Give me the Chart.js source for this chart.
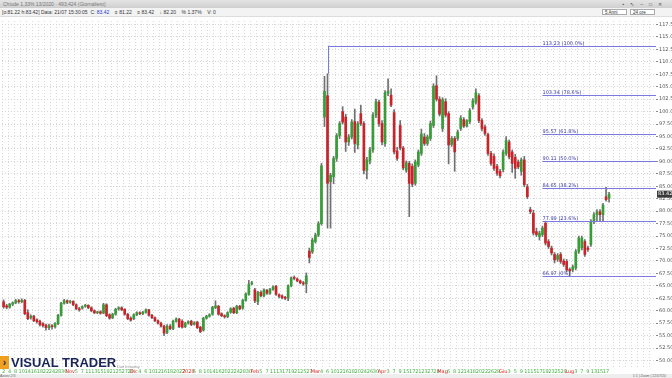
<!DOCTYPE html>
<html>
<head>
<meta charset="utf-8">
<script src="https://cdn.jsdelivr.net/npm/chart.js@4.4.0/dist/chart.umd.min.js"></script>
<style>
html, body { margin:0; padding:0; width:672px; height:378px; overflow:hidden; background:#fff; font-family:"Liberation Sans", Arial, sans-serif; }
#titlebar { position:absolute; left:0; top:0; width:672px; height:8px; background:linear-gradient(#e4e4e4,#cfcfcf); font-size:5px; line-height:8px; color:#777; padding-left:3px; box-sizing:border-box; }
#titlebar .win { position:absolute; right:4px; top:0; letter-spacing:6px; color:#555; }
#toolbar { position:absolute; left:0; top:8px; width:672px; height:9px; background:#f3f3f3; border-bottom:1px solid #ddd; box-sizing:border-box; font-size:5px; line-height:8px; color:#333; padding-left:2px; white-space:pre; }
#toolbar .blue { color:#2233cc; }
#toolbar .sel { position:absolute; top:1px; height:6px; border:1px solid #aaa; background:#fff; font-size:4.5px; line-height:6px; padding-left:2px; box-sizing:border-box; }
#chartWrap { position:absolute; left:0; top:17px; width:672px; height:361px; }
#logo { position:absolute; left:0; top:355px; height:14px; }
#logo .mark { position:absolute; left:0; top:1px; width:9px; height:13px; background:#f0a020; color:#1a2456; font:bold 10px "Liberation Sans"; line-height:13px; text-align:center; }
#logo .name { position:absolute; left:11px; top:1px; font:bold 13px "Liberation Sans", Arial, sans-serif; color:#1a2456; white-space:nowrap; line-height:13px; }
#logo .sub { position:absolute; left:117px; top:9px; font-size:4px; color:#999; white-space:nowrap; }
#status { position:absolute; left:0; top:374px; width:672px; height:4px; background:#eee; font-size:3.5px; line-height:4px; color:#666; }
#status .r { position:absolute; right:6px; top:0; }
</style>
</head>
<body>
<div id="titlebar">Chiude 1,33% 13/2020 · 493,424 (Giornaliero)<span class="win">▪↖–□✕</span></div>
<div id="toolbar">[o:81.22 h:83.42] Data: 21/07 15:30:05  C: <span class="blue">83.42</span>    ≡ 81.22    ≡ 83.42    ↓ 82.20    % 1.37%    V: 0<span class="sel" style="left:602px;width:25px">5 Anni</span><span class="sel" style="left:630px;width:25px">24 ore</span></div>
<div id="chartWrap"><canvas id="chart" width="672" height="361"></canvas></div>
<div id="logo"><div class="mark">›</div><div class="name">VISUAL TRADER</div><div class="sub">Dati Intraday</div></div>
<div id="status">Azioni 2/3<span class="r">1:1 | Zoom | 22/07/20</span></div>
<script>
// daily candles, 2 Oct 2019 -> 20 Jul 2020
const opens = [
  61.8, 61.0, 60.7, 61.3, 61.6, 62.0, 61.8, 62.1, 59.6, 58.6, 58.9, 58.2, 57.9, 57.4, 57.1, 56.6, 57.0, 56.8, 57.4, 59.1,
  61.5, 62.0, 61.7, 61.9, 61.2, 60.4, 60.5, 60.9, 61.1, 60.6, 60.0, 59.6, 59.8, 59.5, 61.2, 59.2, 58.6, 59.3, 60.4, 60.6,
  60.3, 59.3, 58.5, 58.4, 59.2, 59.6, 59.4, 59.7, 60.2, 59.1, 58.6, 58.0, 57.5, 56.9, 55.6, 56.9,
  56.4, 57.9, 58.3, 57.9, 56.8, 57.5, 57.9, 57.3, 57.7, 56.7, 56.1, 58.5, 58.9, 59.3, 60.6, 60.9, 59.4, 59.0, 58.8, 59.7,
  60.5, 59.6, 60.9, 60.5, 62.1, 63.3, 65.4, 64.2, 61.8, 63.7, 63.0, 64.1, 63.5, 64.3, 64.9, 63.2, 63.0, 62.7, 62.5, 65.0,
  66.6, 66.4, 66.0, 65.6, 65.4, 72.0,
  71.8, 73.9, 75.2, 77.5, 98.9, 103.2, 85.9, 86.9, 90.6, 95.2, 100.0, 98.9, 93.9, 94.9, 98.0, 93.3, 99.6, 97.6, 88.2, 90.1,
  92.3, 99.3, 101.9, 97.6, 93.6, 103.7, 103.3, 99.8, 92.1, 97.2, 92.7, 88.2, 89.6, 89.0, 85.6, 89.3, 91.6, 94.9, 93.6, 94.6,
  97.2, 105.2, 102.5, 96.6, 102.0, 99.6, 93.4, 94.6, 94.6, 96.6, 98.4, 97.1, 98.0,
  100.9, 101.9, 103.2, 98.2, 96.9, 95.4, 91.6, 91.0, 89.0, 88.0, 88.3, 91.6, 93.9, 91.9, 90.8, 89.9, 88.0, 90.3, 84.9, 80.3,
  79.6, 75.9, 74.9, 75.3, 77.6, 73.9, 72.6, 71.3, 70.3, 71.3, 70.0, 69.9, 68.3, 68.2, 68.6, 71.9, 72.6, 73.9, 72.6, 73.3,
  77.9, 79.3, 79.9, 79.3, 82.9, 82.6
];
const highs = [
  62.2, 61.3, 61.5, 61.8, 62.3, 62.3, 62.4, 62.3, 60.2, 59.2, 59.1, 58.4, 58.1, 57.6, 57.3, 57.3, 57.2, 57.6, 59.3, 61.7,
  62.3, 62.2, 62.1, 62.0, 61.4, 60.7, 61.0, 61.3, 61.2, 60.8, 60.2, 59.9, 60.0, 61.5, 61.4, 59.4, 59.5, 60.5, 60.8, 60.8,
  60.4, 59.5, 58.8, 59.4, 59.8, 59.8, 59.9, 60.4, 60.3, 59.3, 58.8, 58.2, 57.7, 57.1, 57.2, 57.2,
  58.1, 58.6, 58.5, 58.2, 57.7, 58.0, 58.1, 57.8, 57.9, 56.9, 58.7, 59.1, 59.4, 60.9, 62.0, 61.1, 59.6, 59.2, 59.8, 60.6,
  60.7, 61.1, 61.1, 62.3, 63.6, 66.1, 65.9, 64.5, 63.9, 64.0, 64.4, 64.3, 64.5, 65.0, 65.1, 63.4, 63.2, 62.9, 65.2, 66.8,
  67.0, 66.6, 66.2, 65.9, 67.6, 72.6,
  74.6, 75.6, 77.9, 89.6, 107.1, 107.6, 87.6, 91.0, 95.6, 98.0, 101.0, 99.5, 95.4, 98.4, 100.5, 98.0, 101.3, 98.0, 90.8, 92.8,
  99.8, 102.5, 102.3, 98.2, 104.2, 106.6, 104.6, 100.4, 92.8, 98.2, 93.0, 90.1, 90.0, 89.5, 90.3, 92.3, 96.5, 95.6, 95.3, 98.1,
  105.6, 107.2, 103.0, 102.8, 102.6, 100.0, 95.0, 95.0, 96.3, 99.2, 98.8, 98.4, 100.6,
  102.6, 104.6, 103.6, 98.6, 97.3, 95.7, 92.0, 91.5, 89.4, 88.4, 92.3, 95.0, 94.3, 92.3, 91.4, 90.3, 90.7, 91.0, 85.4, 80.8,
  80.2, 76.6, 76.0, 77.0, 78.0, 74.3, 73.0, 71.7, 71.5, 71.7, 70.4, 70.3, 68.6, 69.2, 72.3, 75.0, 75.0, 74.3, 73.0, 78.3,
  79.7, 80.3, 80.3, 81.6, 84.8, 83.8
];
const lows = [
  60.5, 60.4, 60.5, 61.0, 61.4, 61.5, 61.6, 59.2, 58.2, 58.3, 57.8, 57.5, 56.9, 56.7, 56.1, 56.2, 56.3, 56.5, 57.2, 58.9,
  61.3, 61.4, 61.5, 61.0, 60.2, 59.9, 60.3, 60.7, 60.4, 59.8, 59.4, 59.4, 59.3, 59.4, 58.8, 58.3, 58.4, 59.1, 60.1, 60.0,
  59.1, 58.2, 57.9, 58.2, 59.0, 59.2, 59.2, 59.5, 58.9, 58.4, 57.8, 57.3, 56.7, 55.0, 55.4, 56.2,
  56.2, 57.7, 56.6, 56.5, 56.6, 57.3, 57.0, 57.1, 56.4, 55.6, 55.9, 58.3, 58.7, 59.1, 60.4, 59.1, 58.8, 58.5, 58.6, 59.5,
  59.4, 59.4, 60.2, 60.3, 61.9, 63.1, 65.2, 61.6, 61.2, 62.8, 62.8, 63.3, 63.3, 64.1, 63.1, 62.6, 62.4, 62.2, 62.0, 64.8,
  66.2, 65.8, 65.4, 65.1, 63.6, 69.6,
  71.5, 73.6, 74.9, 77.2, 97.0, 76.6, 76.6, 85.5, 90.0, 94.6, 97.5, 92.0, 93.2, 94.5, 91.8, 92.5, 97.2, 87.5, 86.5, 89.5,
  91.8, 98.8, 97.0, 93.3, 93.0, 103.2, 101.0, 91.5, 90.2, 92.3, 88.3, 87.8, 78.9, 84.9, 85.2, 88.9, 91.2, 93.2, 93.2, 94.2,
  96.8, 102.1, 99.1, 96.0, 98.9, 89.5, 93.0, 88.0, 94.2, 96.2, 96.8, 96.9, 97.6,
  100.5, 101.5, 97.8, 96.1, 95.2, 91.2, 89.2, 88.2, 87.2, 86.7, 87.9, 91.2, 90.5, 87.8, 86.6, 88.5, 87.2, 84.9, 82.5, 79.5,
  75.2, 74.9, 74.2, 74.9, 73.2, 72.5, 71.2, 69.6, 69.9, 69.5, 68.9, 67.8, 66.97, 67.8, 68.2, 71.5, 72.2, 70.9, 71.9, 72.9,
  77.5, 78.0, 77.9, 77.9, 82.0, 81.8
];
const closes = [
  60.8, 60.7, 61.3, 61.6, 62.0, 61.8, 62.1, 59.4, 58.4, 58.9, 58.0, 57.8, 57.2, 57.0, 56.6, 57.0, 56.8, 57.4, 59.1, 61.5,
  62.0, 61.7, 61.9, 61.2, 60.4, 60.2, 60.8, 61.1, 60.6, 60.0, 59.6, 59.7, 59.5, 61.2, 59.0, 58.5, 59.3, 60.3, 60.6, 60.2,
  59.3, 58.4, 58.1, 59.2, 59.6, 59.4, 59.7, 60.2, 59.1, 58.6, 58.0, 57.5, 56.9, 55.5, 56.9, 56.4,
  57.9, 58.3, 56.8, 56.7, 57.5, 57.8, 57.2, 57.6, 56.6, 55.8, 58.5, 58.9, 59.2, 60.7, 61.0, 59.3, 59.0, 58.8, 59.6, 60.4,
  59.6, 60.9, 60.4, 62.1, 63.4, 65.3, 65.6, 62.0, 63.7, 63.0, 64.2, 63.5, 64.3, 64.8, 63.3, 62.9, 62.6, 62.5, 65.0, 66.6,
  66.5, 66.0, 65.6, 65.4, 67.0, 70.7,
  74.2, 75.2, 77.5, 89.1, 104.1, 85.6, 87.2, 90.6, 95.2, 97.6, 97.9, 93.9, 94.9, 97.9, 93.6, 97.6, 97.6, 88.2, 90.3, 92.3,
  99.3, 102.0, 97.6, 93.9, 103.8, 104.1, 101.3, 91.9, 90.6, 92.7, 88.7, 89.7, 85.6, 85.4, 89.9, 91.9, 95.5, 93.6, 94.9, 97.6,
  105.1, 102.5, 99.5, 102.4, 99.3, 93.3, 94.6, 91.9, 95.9, 98.7, 97.1, 98.2, 100.2,
  102.2, 103.8, 98.2, 96.6, 95.6, 91.6, 89.6, 88.6, 87.6, 87.1, 91.9, 94.2, 90.9, 89.6, 88.6, 88.9, 90.3, 85.3, 82.9, 79.9,
  75.6, 75.3, 75.6, 76.6, 73.6, 72.9, 71.6, 70.2, 71.1, 69.9, 69.3, 68.2, 68.0, 68.8, 71.9, 74.6, 74.6, 71.3, 72.3, 77.9,
  79.3, 79.9, 79.3, 81.2, 82.3, 83.42
];

// Fibonacci retracement drawn on the chart
const fibLevels = [113.23, 103.34, 95.57, 90.11, 84.65, 77.99, 66.97];
const fibPct = ['100.0%', '78.6%', '61.8%', '50.0%', '38.2%', '23.6%', '0%'];
const fibHighIndex = 107;
const fibLabelIndex = 178;

const yTicks = [50, 52.5, 55, 57.5, 60, 62.5, 65, 67.5, 70, 72.5, 75, 77.5, 80, 82.5, 85, 87.5,
  90, 92.5, 95, 97.5, 100, 102.5, 105, 107.5, 110, 112.5, 115, 117.5];
const lastPrice = 83.42;

const monthNames = ['2020', 'Feb', 'Mar', 'Apr', 'Mag', 'Giu', 'Lug', 'Ago', 'Set', 'Ott', 'Nov', 'Dic'];
const holidays = ['2019-12-24', '2019-12-25', '2019-12-26', '2019-12-31', '2020-01-01', '2020-04-10', '2020-04-13', '2020-05-01'];
const emptySlots = 15;

// trading days
const dates = [];
for (let d = new Date(2019, 9, 2); dates.length < closes.length; d.setDate(d.getDate() + 1)) {
  const wd = d.getDay();
  if (wd === 0 || wd === 6) continue;
  const key = d.getFullYear() + '-' + String(d.getMonth() + 1).padStart(2, '0') + '-' + String(d.getDate()).padStart(2, '0');
  if (holidays.includes(key)) continue;
  dates.push(new Date(d));
}

const tickText = [];
const isMonth = [];
let monthStart = 0;
dates.forEach((d, i) => {
  if (i > 0 && d.getMonth() !== dates[i - 1].getMonth()) {
    monthStart = i;
    tickText.push(monthNames[d.getMonth()]);
    isMonth.push(true);
  } else {
    tickText.push((i - monthStart) % 2 === 0 ? String(d.getDate()) : '');
    isMonth.push(false);
  }
});

const labels = dates.map(d => d.toISOString().slice(0, 10));
for (let k = 0; k < emptySlots; k++) { labels.push('+' + k); tickText.push(''); isMonth.push(false); }

const bodies = opens.map((o, i) => [o, closes[i]]);
const wicks = lows.map((l, i) => [l, highs[i]]);
const bodyColors = opens.map((o, i) => closes[i] >= o ? '#379d37' : '#c9242a');

const fibPlugin = {
  id: 'fib',
  afterDatasetsDraw(chart) {
    const { ctx, chartArea, scales: { x, y } } = chart;
    ctx.save();
    ctx.strokeStyle = '#7a7ae0';
    ctx.lineWidth = 1;
    ctx.font = '5px "DejaVu Sans"';
    ctx.fillStyle = '#3a3aa8';
    const labelX = x.getPixelForValue(fibLabelIndex);
    fibLevels.forEach((lv, k) => {
      const py = Math.round(y.getPixelForValue(lv)) + 0.5;
      const x0 = k === 0 ? Math.round(x.getPixelForValue(fibHighIndex)) + 0.5 : labelX;
      ctx.beginPath();
      ctx.moveTo(x0, py);
      ctx.lineTo(chartArea.right, py);
      ctx.stroke();
      ctx.fillText(lv.toFixed(2) + ' (' + fibPct[k] + ')', labelX, py - 1.5);
    });
    // anchor from the top level down to the candle
    const hx = Math.round(x.getPixelForValue(fibHighIndex)) + 0.5;
    ctx.beginPath();
    ctx.moveTo(hx, y.getPixelForValue(fibLevels[0]));
    ctx.lineTo(hx, y.getPixelForValue(highs[fibHighIndex]));
    ctx.stroke();
    ctx.restore();
  },
  afterDraw(chart) {
    const { ctx, chartArea, scales: { y } } = chart;
    const py = y.getPixelForValue(lastPrice);
    ctx.save();
    ctx.fillStyle = '#3a3a3a';
    ctx.fillRect(chartArea.right + 1, py - 3.5, 15, 7);
    ctx.fillStyle = '#fff';
    ctx.font = '5px "DejaVu Sans"';
    ctx.textBaseline = 'middle';
    ctx.fillText(lastPrice.toFixed(2), chartArea.right + 2, py);
    ctx.restore();
  }
};

new Chart(document.getElementById('chart'), {
  type: 'bar',
  data: {
    labels,
    datasets: [
      { data: wicks, backgroundColor: '#707070', barThickness: 1, grouped: false, order: 2 },
      { data: bodies, backgroundColor: bodyColors, barThickness: 2, minBarLength: 1, grouped: false, order: 1 }
    ]
  },
  options: {
    responsive: false,
    animation: false,
    layout: { padding: 0 },
    plugins: { legend: { display: false }, tooltip: { enabled: false } },
    scales: {
      x: {
        offset: true,
        grid: {
          color: c => (c.index % 2 === 0 ? '#d9d9d9' : 'rgba(0,0,0,0)'),
          drawTicks: false
        },
        border: { display: false, dash: [1, 2] },
        ticks: {
          autoSkip: false, maxRotation: 0, minRotation: 0, padding: 2,
          font: { size: 5, family: 'DejaVu Sans' },
          color: c => (isMonth[c.index] ? '#e02020' : '#44b044'),
          callback: (v, i) => tickText[i]
        },
        afterFit: s => { s.height = 11; }
      },
      y: {
        position: 'right',
        min: 48.7,
        max: 118.2,
        afterBuildTicks: s => { s.ticks = yTicks.map(v => ({ value: v })); },
        grid: { color: '#d4d4d4', tickLength: 2, tickColor: '#888' },
        border: { display: false, dash: [1, 2] },
        ticks: {
          padding: 1,
          font: { size: 5, family: 'DejaVu Sans' },
          color: '#555',
          callback: v => v.toFixed(2)
        },
        afterFit: s => { s.width = 16; }
      }
    }
  },
  plugins: [fibPlugin]
});
</script>
</body>
</html>
